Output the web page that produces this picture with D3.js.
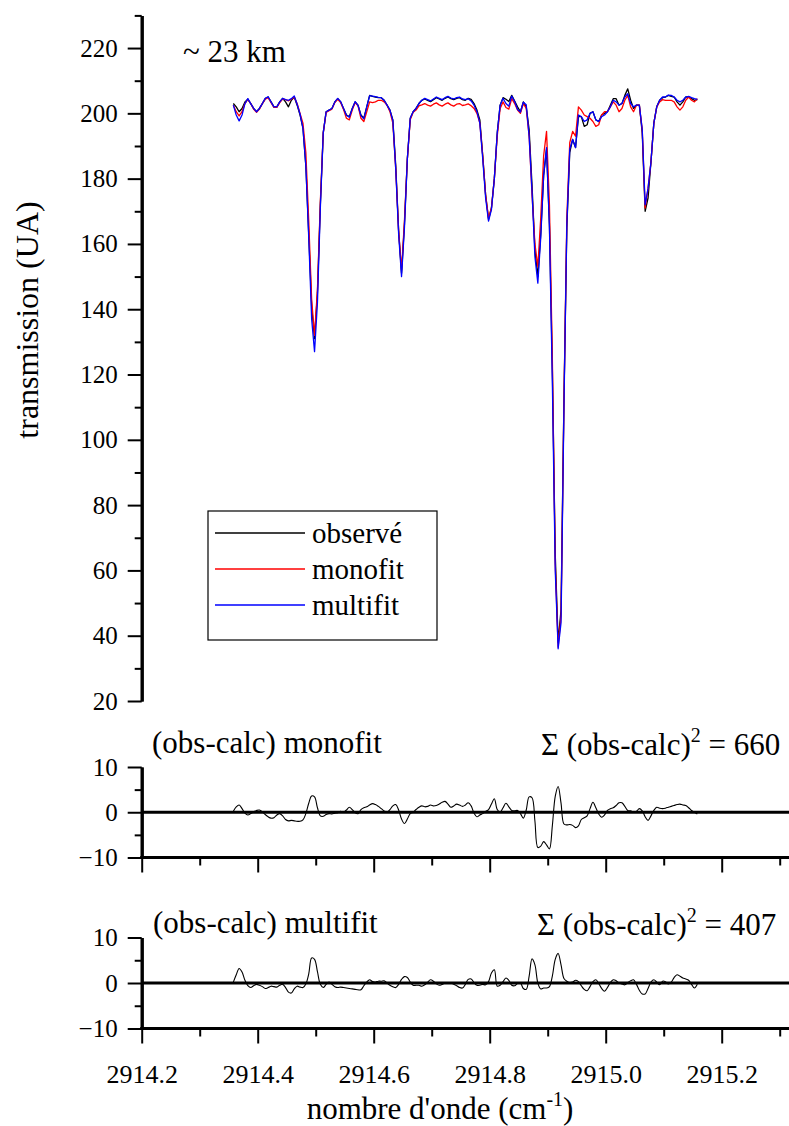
<!DOCTYPE html>
<html><head><meta charset="utf-8">
<script src="https://cdn.jsdelivr.net/npm/d3@7"></script>
<style>
html,body{margin:0;padding:0;background:#fff}
svg{display:block}
svg text{font-family:"Liberation Serif","Times New Roman","DejaVu Serif",serif !important;fill:#000}
</style>
</head><body>
<svg id="chart" width="789" height="1126"></svg>
<script>
// ---------------- data ----------------
const waveStart = 2914.358;   // cm-1, first sample
const waveStep = 0.005;       // cm-1, sampling step

const observed = [
 203,202,200.5,201.5,203.5,204.3,203,201.5,200.5,201.5,
 203,204.5,205,203.5,202,202,203.5,204.6,203.5,202,
 204,205,202.5,199.5,195.5,184,163,141,131,145,
 172,194,200.5,201,201.5,203.5,204.5,203.5,201.5,199.5,
 199,201.5,203.5,202.5,199.5,198.5,202,205.5,205.2,205,
 204.8,204.8,204,202.5,201,198,184,164,151,166,
 186,198.5,200.5,201.5,203,204,204.4,204,203.6,204.2,
 204.8,204.4,204,204.6,205,204.5,204.2,204.6,204.8,204.2,
 204,204.6,204.3,203,201,198,187,175,167.5,171,
 180,194,202.5,204.8,204.3,203.6,205.5,203.8,202,200.5,
 203.5,202,195,178,158,150,163,181,189,166,
 122,65,38,48,112,165,188,192,189.5,199,
 199,196,196.5,200,200.5,198,197.5,199.5,200,200.5,
 202.5,204.5,204.5,202.5,203,205.5,207.5,204,201.5,202.5,
 202.5,194,170,174,185,197,202,204,204.8,205,
 205.5,205.2,205,203.5,202.5,203.5,205,205,204.5,204,204.2
];
const monofit = [
 202.5,200.5,199.2,200.5,203,204.3,203,201.3,200.3,201.3,
 203,204.3,204.8,203.3,201.8,201.8,203.3,204.4,204.2,203.8,
 204.3,205,203,200,197,188,167,143,132,146,
 173,194,200.3,200.8,201.3,203.3,204.3,203.3,201.2,198.5,
 198,201,203.3,202.3,198.5,197.5,200.5,203.5,203.3,203.5,
 204,204,203.5,202.5,200.5,197,183,164,152,167,
 186,198,200.3,201,202.3,202.6,203,202.5,202.2,202.8,
 203.2,202.6,202.2,202.8,203.2,202.6,202.2,202.8,203,202.4,
 202.6,202.9,202.3,201.5,200,197,187,175,168,171,
 180,193,201.5,203.5,201.8,201.3,204.5,203,201,200,
 203,201.5,193,175,160,153,168,187,194.5,172,
 125,62,36.5,46,112,168,191,194.5,193,202,
 201,199.5,199,198.5,197.5,196,196.5,199.5,200.5,200.5,
 202,203.5,202.5,200.5,201.5,204,205.5,202,200.5,202.5,
 202.5,195,171,177,185,197,202,203.5,204.2,204,
 204,204,203.5,202,201,202,204,205,204,203.5,204.5
];
const multifit = [
 202.5,199.5,197.7,199.5,203,204.5,203,201.5,200.5,201.5,
 203,204.6,205.1,203.5,202,202,203.5,204.6,204.2,204,
 204.5,205.3,202.8,199.8,195.5,184,162,137,127,142,
 171,194,200.5,201,201.5,203.5,204.6,203.6,201.5,199.4,
 198.8,201.4,203.6,202.4,199.3,198.3,202,205.4,205.3,205.1,
 204.9,204.8,204,202.5,201,197.8,183,163,150,165,
 186,198.5,200.5,201.5,203,204,204.6,204.2,203.8,204.4,
 205,204.6,204.2,204.8,205.2,204.7,204.4,204.8,205,204.4,
 204.2,204.5,203.8,202.5,200.5,197,186,174,167,170.5,
 180,194,202.5,204.6,203,202.2,205.3,203.6,201.2,200.4,
 203.4,202.6,193,176,156,148,162,181,189.5,165,
 118,60,36,44,110,166,189,192,189.5,199.5,
 199,197.5,198,200,200.5,198,197.5,199,199.5,200.5,
 202,204,203.5,202.5,203,205,206,203,202,202.5,
 202.5,195,172,177,185,197,202,204,205,205,
 205.6,205.5,205,204,203.5,204,205,205.2,204.8,204.5,204.3
];
const residMono = [
 0.2,1.2,1.6,0.8,-0.2,-0.6,-0.3,0.1,0.4,0.5,
 0.1,-0.5,-1.0,-1.3,-1.2,-0.6,-0.3,-0.8,-1.6,-1.9,
 -1.8,-1.9,-2.0,-2.0,-1.7,-0.3,2.0,3.6,3.4,1.0,
 -0.8,-0.9,-0.5,-0.3,-0.4,-0.2,-0.1,0.2,0.0,0.5,
 1.1,0.6,-0.1,-0.3,0.6,1.0,1.2,1.6,1.9,1.7,
 1.3,0.8,0.3,0.0,0.6,1.4,1.7,0.5,-1.5,-2.5,
 -1.5,-0.3,0.0,0.6,1.1,1.4,1.2,1.3,1.6,1.4,
 1.5,1.8,2.2,2.4,1.8,1.1,1.4,1.8,1.6,1.3,
 1.6,2.1,1.4,-0.2,-1.0,-0.6,-0.3,0.2,0.6,1.8,
 3.0,0.6,0.0,1.0,2.0,1.2,0.4,0.3,0.4,-0.3,
 -1.3,0.5,3.4,3.2,-2.0,-7.8,-7.5,-6.5,-7.2,-8.1,
 -3.0,3.5,5.7,2.0,-2.6,-2.8,-2.7,-2.9,-3.4,-3.0,
 -1.6,-1.2,-0.8,0.8,2.2,1.0,-0.4,-1.1,-0.6,0.4,
 0.8,1.0,1.5,2.1,2.1,1.3,0.4,0.3,0.0,0.2,
 0.8,0.3,-1.0,-1.8,-0.8,0.4,1.1,0.9,0.8,0.9,
 1.1,1.3,1.5,1.7,1.8,1.6,1.5,1.0,0.4,0.0,-0.4
];
const residMulti = [
 0.2,1.8,3.2,2.4,0.6,-0.6,-1.0,-0.6,-0.3,-0.5,
 -0.8,-1.2,-1.0,-0.7,-0.8,-0.9,-0.5,-0.3,-1.0,-2.0,
 -2.2,-1.3,-0.7,-0.9,-1.0,-0.2,2.0,5.5,5.2,2.5,
 -0.3,-1.0,-0.3,0.2,-0.3,-0.8,-1.0,-0.9,-1.0,-1.1,
 -1.2,-1.3,-1.4,-1.5,-1.5,-0.6,0.2,0.7,0.3,0.2,
 0.4,0.4,0.5,0.0,-0.5,-0.8,-1.0,-0.3,0.8,1.4,
 1.2,0.2,-0.5,-0.5,-0.5,-0.7,-0.4,0.2,0.7,0.4,
 -0.2,-0.5,-0.3,0.0,0.1,0.0,-0.3,-0.6,-1.0,-1.1,
 -0.3,0.8,0.9,0.1,-0.5,-0.5,-0.3,-0.4,0.3,2.2,
 2.9,-0.7,-0.5,0.3,1.1,0.6,-0.5,-0.6,-0.1,0.0,
 -1.2,-1.4,1.5,5.3,4.0,0.0,-1.3,-1.1,-1.1,-0.8,
 1.5,5.2,6.5,4.0,1.0,0.4,0.1,0.2,0.6,0.3,
 -0.6,-1.4,-1.7,-0.8,0.3,0.7,-0.1,-1.2,-1.8,-1.0,
 0.1,0.7,0.5,0.0,-0.2,-0.4,0.1,0.5,0.7,-0.3,
 -1.6,-2.4,-2.4,-1.2,0.2,0.7,0.2,-0.4,0.4,0.3,
 -0.2,0.2,1.2,1.8,1.5,1.1,0.9,0.6,-0.3,-1.1,-0.3
];

const mainMajorTicks = [20,40,60,80,100,120,140,160,180,200,220];
const mainMinorTicks = [30,50,70,90,110,130,150,170,190,210,230];
const residMajorTicks = [-10,0,10];
const residMinorTicks = [-5,5];
const xMajorTicks = [2914.2,2914.4,2914.6,2914.8,2915.0,2915.2];
const xMinorTicks = [2914.3,2914.5,2914.7,2914.9,2915.1,2915.3];
const legendLabels = ["observé","monofit","multifit"];
const sumSquares = [660, 407];

// ---------------- layout / styles ----------------
const FONT = '"Liberation Serif","Times New Roman","DejaVu Serif",serif';
const seriesColors = ["#000000","#ff0000","#0000ff"];
const svg = d3.select("#chart");
const xLeft = 141.7, xRight = 789;
const x = d3.scaleLinear().domain([2914.2, 2915.3]).range([xLeft, 779.7]);
const yMain = d3.scaleLinear().domain([20, 230]).range([701, 15.4]);
const yR1 = d3.scaleLinear().domain([-10, 10]).range([857.5, 767]);
const yR2 = d3.scaleLinear().domain([-10, 10]).range([1028.5, 937.5]);

const waves = observed.map((_, i) => waveStart + i * waveStep);

function styleAxis(g, fs) {
  g.attr("font-family", FONT);
  g.select(".domain").attr("stroke-width", 3).attr("stroke", "#000");
  g.selectAll(".tick line").attr("stroke-width", 2).attr("stroke", "#000");
  g.selectAll(".tick text").attr("font-size", fs).attr("font-family", FONT).attr("fill", "#000");
}
function txt(sel) { return sel.append("text").attr("font-family", FONT).attr("fill", "#000"); }

// main y axis
const gm1 = svg.append("g").attr("transform", `translate(${xLeft},0)`)
  .call(d3.axisLeft(yMain).tickValues(mainMinorTicks).tickSize(7).tickSizeOuter(0).tickFormat(""));
styleAxis(gm1, 25);
const gm2 = svg.append("g").attr("transform", `translate(${xLeft},0)`)
  .call(d3.axisLeft(yMain).tickValues(mainMajorTicks).tickSize(14).tickSizeOuter(0).tickPadding(10).tickFormat(d3.format("d")));
styleAxis(gm2, 25);

// residual panels
function residPanel(yScale, data, withLabels) {
  const a1 = svg.append("g").attr("transform", `translate(${xLeft},0)`)
    .call(d3.axisLeft(yScale).tickValues(residMinorTicks).tickSize(7).tickSizeOuter(0).tickFormat(""));
  styleAxis(a1, 25);
  const a2 = svg.append("g").attr("transform", `translate(${xLeft},0)`)
    .call(d3.axisLeft(yScale).tickValues(residMajorTicks).tickSize(14).tickSizeOuter(0).tickPadding(10).tickFormat(d3.format("d")));
  styleAxis(a2, 25);
  const y0 = yScale(-10);
  const b1 = svg.append("g").attr("transform", `translate(0,${y0})`)
    .call(d3.axisBottom(x).tickValues(xMinorTicks).tickSize(8).tickSizeOuter(0).tickFormat(""));
  styleAxis(b1, 26);
  b1.select(".domain").remove();
  const b2 = svg.append("g").attr("transform", `translate(0,${y0})`)
    .call(d3.axisBottom(x).tickValues(xMajorTicks).tickSize(15).tickSizeOuter(0)
      .tickFormat(withLabels ? d3.format(".1f") : ""));
  styleAxis(b2, 26);
  b2.select(".domain").remove();
  b2.selectAll(".tick text").attr("y", 54).attr("dy", 0);
  svg.append("line").attr("x1", xLeft - 1.5).attr("x2", xRight).attr("y1", y0).attr("y2", y0)
    .attr("stroke", "#000").attr("stroke-width", 3);
  svg.append("line").attr("x1", xLeft).attr("x2", xRight).attr("y1", yScale(0)).attr("y2", yScale(0))
    .attr("stroke", "#000").attr("stroke-width", 3);
  const line = d3.line().x((d, i) => x(waves[i])).y(d => yScale(d)).curve(d3.curveCatmullRom.alpha(0.5));
  svg.append("path").datum(data).attr("d", line).attr("fill", "none")
    .attr("stroke", "#000").attr("stroke-width", 1.1);
}
residPanel(yR1, residMono, false);
residPanel(yR2, residMulti, true);

// main curves
const mainLine = d3.line().x((d, i) => x(waves[i])).y(d => yMain(d));
[observed, monofit, multifit].forEach((s, k) => {
  svg.append("path").datum(s).attr("d", mainLine).attr("fill", "none")
    .attr("stroke", seriesColors[k]).attr("stroke-width", 1.3).attr("stroke-linejoin", "round");
});

// legend
const lg = svg.append("g");
lg.append("rect").attr("x", 208).attr("y", 511).attr("width", 229).attr("height", 129)
  .attr("fill", "#fff").attr("stroke", "#000").attr("stroke-width", 1.2);
legendLabels.forEach((lab, k) => {
  const yy = 533 + k * 36;
  lg.append("line").attr("x1", 215).attr("x2", 305).attr("y1", yy).attr("y2", yy)
    .attr("stroke", seriesColors[k]).attr("stroke-width", 1.3);
  txt(lg).attr("x", 312).attr("y", yy + 10).attr("font-size", 29).text(lab);
});

// annotations
txt(svg).attr("x", 183).attr("y", 62).attr("font-size", 31).text("~ 23 km");
txt(svg).attr("x", 152).attr("y", 753).attr("font-size", 31).text("(obs-calc) monofit");
txt(svg).attr("x", 153).attr("y", 933).attr("font-size", 31).text("(obs-calc) multifit");
function sumText(xx, yy, val) {
  const t = txt(svg).attr("x", xx).attr("y", yy).attr("font-size", 31);
  t.append("tspan").text("Σ (obs-calc)");
  t.append("tspan").attr("font-size", 20).attr("dy", -13).text("2");
  t.append("tspan").attr("dy", 13).text(" = " + val);
}
sumText(541, 755, sumSquares[0]);
sumText(537, 935, sumSquares[1]);

// axis titles
const xt = txt(svg).attr("x", 440).attr("y", 1119).attr("text-anchor", "middle").attr("font-size", 31);
xt.append("tspan").text("nombre d'onde (cm");
xt.append("tspan").attr("font-size", 20).attr("dy", -13).text("-1");
xt.append("tspan").attr("dy", 13).text(")");
txt(svg).attr("transform", "translate(38,320) rotate(-90)").attr("text-anchor", "middle")
  .attr("font-size", 32).text("transmission (UA)");
</script>
</body></html>
